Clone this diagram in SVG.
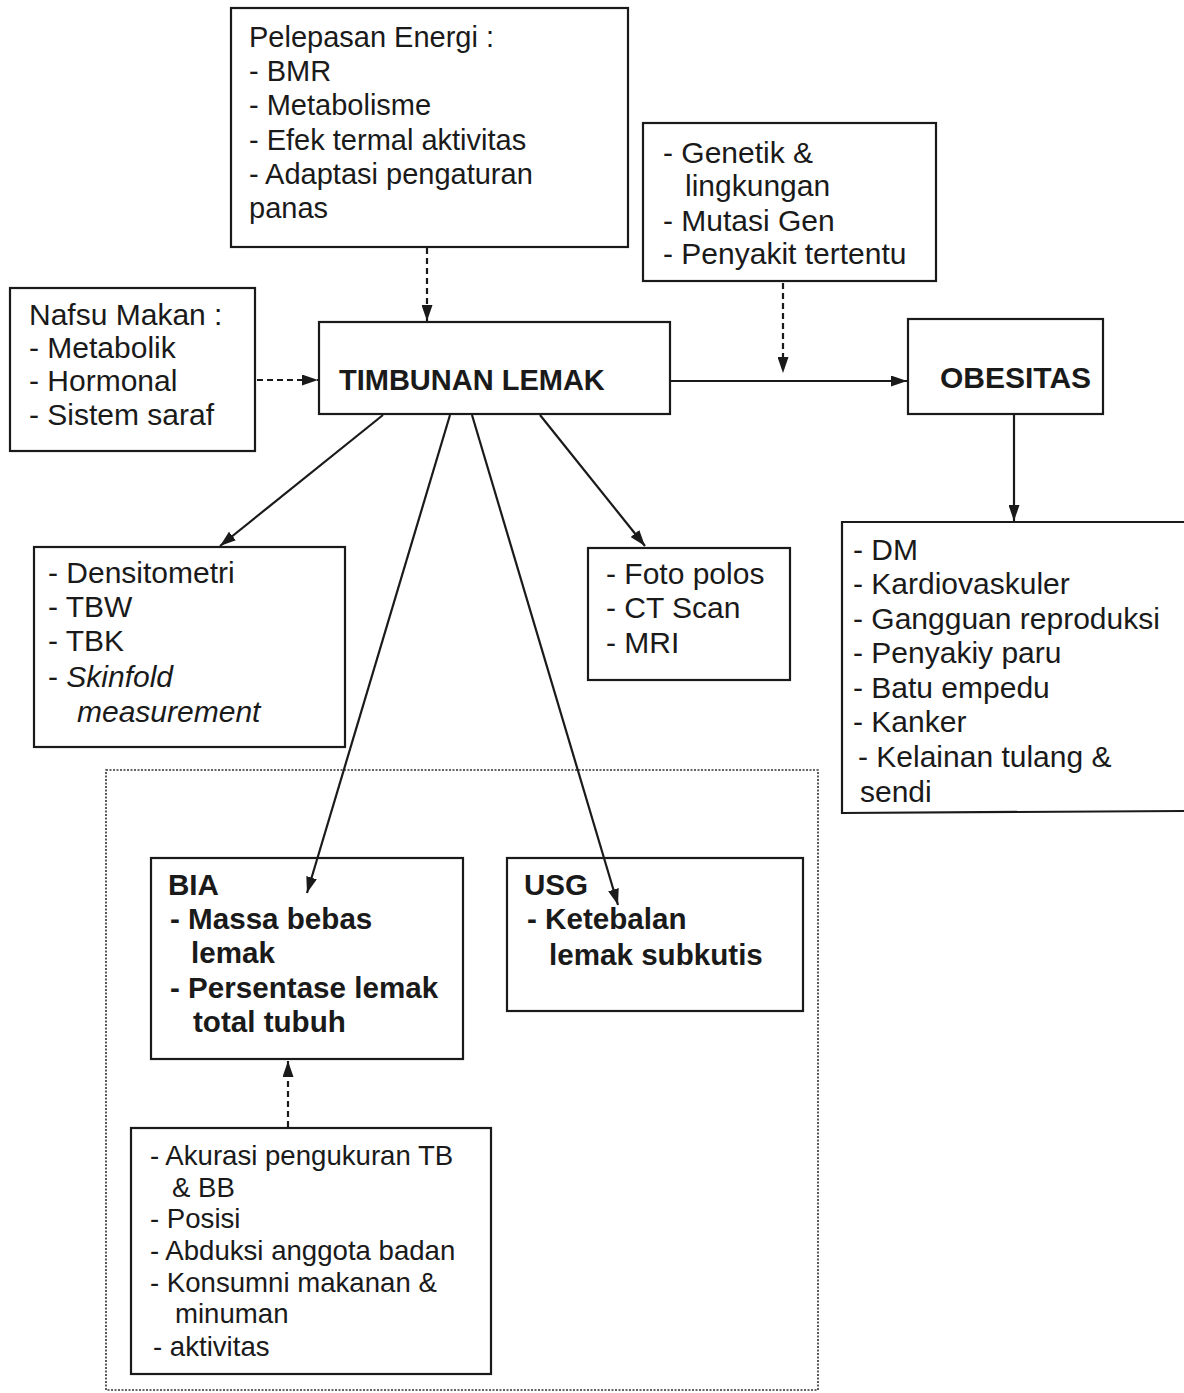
<svg xmlns="http://www.w3.org/2000/svg" width="1184" height="1393" viewBox="0 0 1184 1393">
<style>
.box{fill:#fff;stroke:#1a1a1a;stroke-width:2.2}
.t{font-family:"Liberation Sans",Arial,sans-serif;font-size:30px;fill:#1a1a1a}
.top{font-size:29px}
.s{font-size:27.6px}
.b{font-weight:bold}
.bb{font-size:29.6px}
.i{font-style:italic}
.ln{stroke:#1a1a1a;stroke-width:2.2;fill:none}
.dash{stroke-dasharray:6 4}
.dot{fill:none;stroke:#333;stroke-width:1.6;stroke-dasharray:2 1.5}
</style>
<defs>
<marker id="ah" viewBox="0 0 16 11" refX="16" refY="5.5" markerWidth="16" markerHeight="11" markerUnits="userSpaceOnUse" orient="auto">
<path d="M0,0 L16,5.5 L0,11 Z" fill="#1a1a1a"/>
</marker>
</defs>
<rect width="1184" height="1393" fill="#fff"/>

<g id="group-container">
<rect class="dot" x="106" y="770" width="712" height="620"/>
</g>

<g id="node-pelepasan">
<rect class="box" x="231" y="8" width="397" height="239"/>
<text class="t top" x="249" y="47">Pelepasan Energi :</text>
<text class="t top" x="249" y="81">- BMR</text>
<text class="t top" x="249" y="115">- Metabolisme</text>
<text class="t top" x="249" y="150">- Efek termal aktivitas</text>
<text class="t top" x="249" y="184">- Adaptasi pengaturan</text>
<text class="t top" x="249" y="218">panas</text>
</g>

<g id="node-genetik">
<rect class="box" x="643" y="123" width="293" height="158"/>
<text class="t" x="663" y="163">- Genetik &amp;</text>
<text class="t" x="685" y="196">lingkungan</text>
<text class="t" x="663" y="231">- Mutasi Gen</text>
<text class="t" x="663" y="264">- Penyakit tertentu</text>
</g>

<g id="node-nafsu">
<rect class="box" x="10" y="288" width="245" height="163"/>
<text class="t" x="29" y="325">Nafsu Makan :</text>
<text class="t" x="29" y="358">- Metabolik</text>
<text class="t" x="29" y="391">- Hormonal</text>
<text class="t" x="29" y="425">- Sistem saraf</text>
</g>

<g id="node-timbunan">
<rect class="box" x="319" y="322" width="351" height="92"/>
<text class="t b" x="339" y="390" style="font-size:29px">TIMBUNAN LEMAK</text>
</g>

<g id="node-obesitas">
<rect class="box" x="908" y="319" width="195" height="95"/>
<text class="t b" x="940" y="388">OBESITAS</text>
</g>

<g id="node-komplikasi">
<rect x="842" y="522" width="342" height="291" fill="#fff"/>
<path class="ln" d="M1184,522 L842,522 L842,813 L1184,811"/>
<text class="t" x="853" y="560">- DM</text>
<text class="t" x="853" y="594">- Kardiovaskuler</text>
<text class="t" x="853" y="629">- Gangguan reproduksi</text>
<text class="t" x="853" y="663">- Penyakiy paru</text>
<text class="t" x="853" y="698">- Batu empedu</text>
<text class="t" x="853" y="732">- Kanker</text>
<text class="t" x="858" y="767">- Kelainan tulang &amp;</text>
<text class="t" x="860" y="802">sendi</text>
</g>

<g id="node-densitometri">
<rect class="box" x="34" y="547" width="311" height="200"/>
<text class="t" x="48" y="583">- Densitometri</text>
<text class="t" x="48" y="617">- TBW</text>
<text class="t" x="48" y="651">- TBK</text>
<text class="t" x="48" y="687">- <tspan class="i">Skinfold</tspan></text>
<text class="t i" x="77" y="722">measurement</text>
</g>

<g id="node-foto">
<rect class="box" x="588" y="548" width="202" height="132"/>
<text class="t" x="606" y="584">- Foto polos</text>
<text class="t" x="606" y="618">- CT Scan</text>
<text class="t" x="606" y="653">- MRI</text>
</g>

<g id="node-bia">
<rect class="box" x="151" y="858" width="312" height="201"/>
<text class="t b bb" x="168" y="895">BIA</text>
<text class="t b bb" x="170" y="929">- Massa bebas</text>
<text class="t b bb" x="191" y="963">lemak</text>
<text class="t b bb" x="170" y="998">- Persentase lemak</text>
<text class="t b bb" x="193" y="1032">total tubuh</text>
</g>

<g id="node-usg">
<rect class="box" x="507" y="858" width="296" height="153"/>
<text class="t b bb" x="524" y="895">USG</text>
<text class="t b bb" x="527" y="929">- Ketebalan</text>
<text class="t b bb" x="549" y="965">lemak subkutis</text>
</g>

<g id="node-faktor">
<rect class="box" x="131" y="1128" width="360" height="246"/>
<text class="t s" x="150" y="1165">- Akurasi pengukuran TB</text>
<text class="t s" x="172" y="1197">&amp; BB</text>
<text class="t s" x="150" y="1228">- Posisi</text>
<text class="t s" x="150" y="1260">- Abduksi anggota badan</text>
<text class="t s" x="150" y="1292">- Konsumni makanan &amp;</text>
<text class="t s" x="175" y="1323">minuman</text>
<text class="t s" x="153" y="1356">- aktivitas</text>
</g>

<g id="connectors">
<line class="ln dash" x1="427" y1="248" x2="427" y2="321" marker-end="url(#ah)"/>
<line class="ln dash" x1="257" y1="380" x2="318" y2="380" marker-end="url(#ah)"/>
<line class="ln dash" x1="783" y1="283" x2="783" y2="373" marker-end="url(#ah)"/>
<line class="ln" x1="671" y1="381" x2="907" y2="381" marker-end="url(#ah)"/>
<line class="ln" x1="1014" y1="415" x2="1014" y2="521" marker-end="url(#ah)"/>
<line class="ln" x1="383" y1="415" x2="220" y2="546" marker-end="url(#ah)"/>
<line class="ln" x1="450" y1="415" x2="307" y2="893" marker-end="url(#ah)"/>
<line class="ln" x1="472" y1="415" x2="618" y2="905" marker-end="url(#ah)"/>
<line class="ln" x1="540" y1="415" x2="645" y2="546" marker-end="url(#ah)"/>
<line class="ln dash" x1="288" y1="1127" x2="288" y2="1061" marker-end="url(#ah)"/>
</g>
</svg>
